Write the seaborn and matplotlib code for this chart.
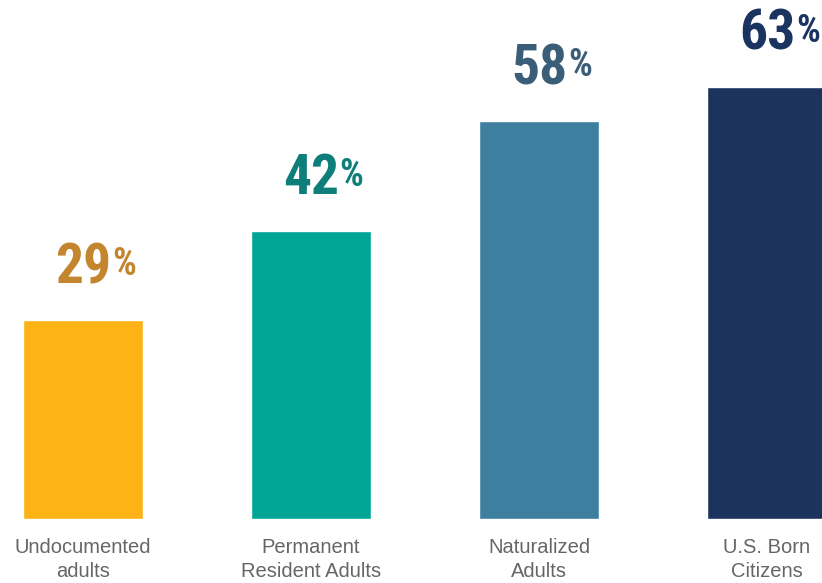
import matplotlib
matplotlib.use("Agg")
import matplotlib.pyplot as plt
import seaborn as sns
import pandas as pd

categories = ["Undocumented\nadults", "Permanent\nResident Adults", "Naturalized\nAdults", "U.S. Born\nCitizens"]
values = [29, 42, 58, 63]
bar_colors = ["#FDB316", "#00A595", "#3E7FA0", "#1C335E"]
label_colors = ["#C4852F", "#0E7E7A", "#3A5E78", "#1B3360"]

sns.set_theme(style="white")
plt.rcParams["font.family"] = ["Liberation Sans", "DejaVu Sans"]

df = pd.DataFrame({"group": categories, "share": values})

fig = plt.figure(figsize=(8.22, 5.83), dpi=100)
ax = fig.add_axes([0, 64 / 583, 1, 519 / 583])
sns.barplot(data=df, x="group", y="share", hue="group", palette=bar_colors,
            width=0.526, saturation=1, legend=False, ax=ax)

ax.set_xlim(-83 / 228, (822 - 83) / 228)
ax.set_ylim(0, 519 / 6.86)
ax.set_xlabel("")
ax.set_ylabel("")
ax.set_yticks([])
ax.tick_params(axis="x", length=0, pad=14, labelsize=14.5, labelcolor="#666666")
for lbl in ax.get_xticklabels():
    lbl.set_linespacing(1.32)
    lbl.set_verticalalignment("top")
sns.despine(ax=ax, left=True, bottom=True)

num_font = ["Roboto Condensed", "DejaVu Sans"]
for i, (v, c) in enumerate(zip(values, label_colors)):
    t = ax.text(i, v + 5.4, f"{v}", ha="center", va="baseline", family=num_font,
                fontsize=40, fontweight="bold", color=c)
    ax.annotate("%", xy=(1, 1), xycoords=t, xytext=(0.5, -3), textcoords="offset points",
                ha="left", va="top", family=num_font, fontsize=27, fontweight="bold", color=c)

fig.savefig("out.png", dpi=100)
